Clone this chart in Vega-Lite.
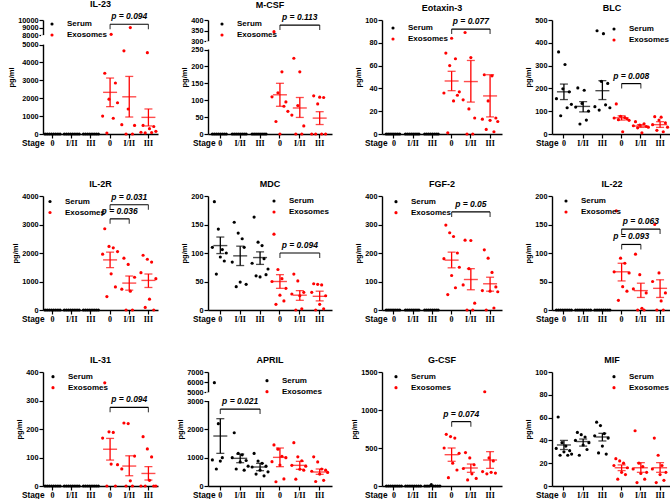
{
"$schema":"https://vega.github.io/schema/vega-lite/v6.json",
"padding":{"left":7,"top":0,"right":0,"bottom":0},
"bounds":"flush",
"columns":4,
"spacing":{"row":62,"column":50},
"resolve":{"scale":{"x":"independent","y":"independent","color":"independent","xOffset":"independent"},"legend":{"color":"independent"},"axis":{"x":"independent","y":"independent"}},
"config":{
"view":{"stroke":null},
"font":"Liberation Sans",
"axis":{"grid":false,"domainColor":"#000000","domainWidth":1.4,"tickColor":"#000000","tickWidth":1.2,"tickSize":4,"labelColor":"#000000","labelFont":"Liberation Sans","labelFontWeight":"bold","labelFontSize":7.3,"labelPadding":1,"titleColor":"#000000","titleFont":"Liberation Sans","titleFontWeight":"bold","titleFontSize":7.5,"labelOverlap":false,"labelFlush":false},
"axisX":{"labelFont":"Liberation Serif","labelFontSize":8,"labelAngle":0,"titleAlign":"right","titleBaseline":"middle","titleY":9,"titleFontSize":8.3},
"axisY":{"titlePadding":2,"tickCount":20},
"legend":{"padding":0,"symbolType":"circle","symbolSize":10,"symbolStrokeWidth":0,"labelFont":"Liberation Sans","labelFontWeight":"bold","labelFontSize":8,"labelOffset":11,"rowPadding":3,"labelColor":"#000000"},
"title":{"font":"Liberation Sans","fontSize":9,"fontWeight":"bold","color":"#000000","frame":"group","baseline":"bottom","offset":3}
},
"datasets":{
"gap":[{"p":"IL-23","lo":5000,"hi":8000},{"p":"M-CSF","lo":250,"hi":300},{"p":"APRIL","lo":3000,"hi":5000}],
"pts":[
{"p":"IL-23","g":1,"v":0},{"p":"IL-23","g":1,"v":0},{"p":"IL-23","g":1,"v":0},{"p":"IL-23","g":1,"v":0},{"p":"IL-23","g":1,"v":0},{"p":"IL-23","g":1,"v":0},{"p":"IL-23","g":1,"v":0},{"p":"IL-23","g":1,"v":0},
{"p":"IL-23","g":2,"v":0},{"p":"IL-23","g":2,"v":0},{"p":"IL-23","g":2,"v":0},{"p":"IL-23","g":2,"v":0},{"p":"IL-23","g":2,"v":0},{"p":"IL-23","g":2,"v":0},{"p":"IL-23","g":2,"v":0},{"p":"IL-23","g":2,"v":0},
{"p":"IL-23","g":3,"v":0},{"p":"IL-23","g":3,"v":0},{"p":"IL-23","g":3,"v":0},{"p":"IL-23","g":3,"v":0},{"p":"IL-23","g":3,"v":0},{"p":"IL-23","g":3,"v":0},{"p":"IL-23","g":3,"v":0},{"p":"IL-23","g":3,"v":0},
{"p":"IL-23","g":4,"v":1000},{"p":"IL-23","g":4,"v":3400},{"p":"IL-23","g":4,"v":50},{"p":"IL-23","g":4,"v":1950},{"p":"IL-23","g":4,"v":8100},{"p":"IL-23","g":4,"v":880},{"p":"IL-23","g":4,"v":2850},{"p":"IL-23","g":4,"v":1750},
{"p":"IL-23","g":5,"v":520},{"p":"IL-23","g":5,"v":4650},{"p":"IL-23","g":5,"v":0},{"p":"IL-23","g":5,"v":1400},{"p":"IL-23","g":5,"v":9000},{"p":"IL-23","g":5,"v":0},{"p":"IL-23","g":5,"v":480},
{"p":"IL-23","g":6,"v":100},{"p":"IL-23","g":6,"v":480},{"p":"IL-23","g":6,"v":60},{"p":"IL-23","g":6,"v":4550},{"p":"IL-23","g":6,"v":300},{"p":"IL-23","g":6,"v":80},{"p":"IL-23","g":6,"v":420},{"p":"IL-23","g":6,"v":150},
{"p":"M-CSF","g":1,"v":0},{"p":"M-CSF","g":1,"v":0},{"p":"M-CSF","g":1,"v":0},{"p":"M-CSF","g":1,"v":0},{"p":"M-CSF","g":1,"v":0},{"p":"M-CSF","g":1,"v":0},{"p":"M-CSF","g":1,"v":0},{"p":"M-CSF","g":1,"v":0},
{"p":"M-CSF","g":2,"v":0},{"p":"M-CSF","g":2,"v":0},{"p":"M-CSF","g":2,"v":0},{"p":"M-CSF","g":2,"v":0},{"p":"M-CSF","g":2,"v":0},{"p":"M-CSF","g":2,"v":0},{"p":"M-CSF","g":2,"v":0},{"p":"M-CSF","g":2,"v":0},
{"p":"M-CSF","g":3,"v":0},{"p":"M-CSF","g":3,"v":0},{"p":"M-CSF","g":3,"v":0},{"p":"M-CSF","g":3,"v":0},{"p":"M-CSF","g":3,"v":0},{"p":"M-CSF","g":3,"v":0},{"p":"M-CSF","g":3,"v":0},{"p":"M-CSF","g":3,"v":0},
{"p":"M-CSF","g":4,"v":110},{"p":"M-CSF","g":4,"v":345},{"p":"M-CSF","g":4,"v":37},{"p":"M-CSF","g":4,"v":122},{"p":"M-CSF","g":4,"v":0},{"p":"M-CSF","g":4,"v":184},{"p":"M-CSF","g":4,"v":82},{"p":"M-CSF","g":4,"v":95},{"p":"M-CSF","g":4,"v":67},
{"p":"M-CSF","g":5,"v":56},{"p":"M-CSF","g":5,"v":224},{"p":"M-CSF","g":5,"v":0},{"p":"M-CSF","g":5,"v":84},{"p":"M-CSF","g":5,"v":184},{"p":"M-CSF","g":5,"v":0},{"p":"M-CSF","g":5,"v":24},
{"p":"M-CSF","g":6,"v":0},{"p":"M-CSF","g":6,"v":113},{"p":"M-CSF","g":6,"v":0},{"p":"M-CSF","g":6,"v":89},{"p":"M-CSF","g":6,"v":109},{"p":"M-CSF","g":6,"v":0},{"p":"M-CSF","g":6,"v":108},{"p":"M-CSF","g":6,"v":0},
{"p":"Eotaxin-3","g":1,"v":0},{"p":"Eotaxin-3","g":1,"v":0},{"p":"Eotaxin-3","g":1,"v":0},{"p":"Eotaxin-3","g":1,"v":0},{"p":"Eotaxin-3","g":1,"v":0},{"p":"Eotaxin-3","g":1,"v":0},{"p":"Eotaxin-3","g":1,"v":0},{"p":"Eotaxin-3","g":1,"v":0},
{"p":"Eotaxin-3","g":2,"v":0},{"p":"Eotaxin-3","g":2,"v":0},{"p":"Eotaxin-3","g":2,"v":0},{"p":"Eotaxin-3","g":2,"v":0},{"p":"Eotaxin-3","g":2,"v":0},{"p":"Eotaxin-3","g":2,"v":0},{"p":"Eotaxin-3","g":2,"v":0},{"p":"Eotaxin-3","g":2,"v":0},
{"p":"Eotaxin-3","g":3,"v":0},{"p":"Eotaxin-3","g":3,"v":0},{"p":"Eotaxin-3","g":3,"v":0},{"p":"Eotaxin-3","g":3,"v":0},{"p":"Eotaxin-3","g":3,"v":0},{"p":"Eotaxin-3","g":3,"v":0},{"p":"Eotaxin-3","g":3,"v":0},{"p":"Eotaxin-3","g":3,"v":0},
{"p":"Eotaxin-3","g":4,"v":36},{"p":"Eotaxin-3","g":4,"v":71},{"p":"Eotaxin-3","g":4,"v":1},{"p":"Eotaxin-3","g":4,"v":60},{"p":"Eotaxin-3","g":4,"v":84},{"p":"Eotaxin-3","g":4,"v":29},{"p":"Eotaxin-3","g":4,"v":66},{"p":"Eotaxin-3","g":4,"v":34},{"p":"Eotaxin-3","g":4,"v":37},
{"p":"Eotaxin-3","g":5,"v":30},{"p":"Eotaxin-3","g":5,"v":89},{"p":"Eotaxin-3","g":5,"v":0},{"p":"Eotaxin-3","g":5,"v":22},{"p":"Eotaxin-3","g":5,"v":67},{"p":"Eotaxin-3","g":5,"v":0},{"p":"Eotaxin-3","g":5,"v":14},
{"p":"Eotaxin-3","g":6,"v":13},{"p":"Eotaxin-3","g":6,"v":52},{"p":"Eotaxin-3","g":6,"v":4},{"p":"Eotaxin-3","g":6,"v":29},{"p":"Eotaxin-3","g":6,"v":12},{"p":"Eotaxin-3","g":6,"v":51},{"p":"Eotaxin-3","g":6,"v":2},{"p":"Eotaxin-3","g":6,"v":14},{"p":"Eotaxin-3","g":6,"v":11},
{"p":"BLC","g":1,"v":155},{"p":"BLC","g":1,"v":360},{"p":"BLC","g":1,"v":80},{"p":"BLC","g":1,"v":198},{"p":"BLC","g":1,"v":305},{"p":"BLC","g":1,"v":115},{"p":"BLC","g":1,"v":185},{"p":"BLC","g":1,"v":130},
{"p":"BLC","g":2,"v":118},{"p":"BLC","g":2,"v":202},{"p":"BLC","g":2,"v":44},{"p":"BLC","g":2,"v":134},{"p":"BLC","g":2,"v":192},{"p":"BLC","g":2,"v":61},{"p":"BLC","g":2,"v":100},
{"p":"BLC","g":3,"v":120},{"p":"BLC","g":3,"v":453},{"p":"BLC","g":3,"v":105},{"p":"BLC","g":3,"v":231},{"p":"BLC","g":3,"v":440},{"p":"BLC","g":3,"v":128},{"p":"BLC","g":3,"v":222},{"p":"BLC","g":3,"v":115},
{"p":"BLC","g":4,"v":70},{"p":"BLC","g":4,"v":132},{"p":"BLC","g":4,"v":63},{"p":"BLC","g":4,"v":78},{"p":"BLC","g":4,"v":10},{"p":"BLC","g":4,"v":72},{"p":"BLC","g":4,"v":66},{"p":"BLC","g":4,"v":60},
{"p":"BLC","g":5,"v":36},{"p":"BLC","g":5,"v":54},{"p":"BLC","g":5,"v":27},{"p":"BLC","g":5,"v":39},{"p":"BLC","g":5,"v":5},{"p":"BLC","g":5,"v":45},{"p":"BLC","g":5,"v":33},{"p":"BLC","g":5,"v":30},
{"p":"BLC","g":6,"v":41},{"p":"BLC","g":6,"v":76},{"p":"BLC","g":6,"v":16},{"p":"BLC","g":6,"v":61},{"p":"BLC","g":6,"v":74},{"p":"BLC","g":6,"v":10},{"p":"BLC","g":6,"v":49},{"p":"BLC","g":6,"v":30},
{"p":"IL-2R","g":1,"v":0},{"p":"IL-2R","g":1,"v":0},{"p":"IL-2R","g":1,"v":0},{"p":"IL-2R","g":1,"v":0},{"p":"IL-2R","g":1,"v":0},{"p":"IL-2R","g":1,"v":0},{"p":"IL-2R","g":1,"v":0},{"p":"IL-2R","g":1,"v":0},
{"p":"IL-2R","g":2,"v":0},{"p":"IL-2R","g":2,"v":0},{"p":"IL-2R","g":2,"v":0},{"p":"IL-2R","g":2,"v":0},{"p":"IL-2R","g":2,"v":0},{"p":"IL-2R","g":2,"v":0},{"p":"IL-2R","g":2,"v":0},{"p":"IL-2R","g":2,"v":0},
{"p":"IL-2R","g":3,"v":0},{"p":"IL-2R","g":3,"v":0},{"p":"IL-2R","g":3,"v":0},{"p":"IL-2R","g":3,"v":0},{"p":"IL-2R","g":3,"v":0},{"p":"IL-2R","g":3,"v":0},{"p":"IL-2R","g":3,"v":0},{"p":"IL-2R","g":3,"v":0},
{"p":"IL-2R","g":4,"v":1960},{"p":"IL-2R","g":4,"v":2850},{"p":"IL-2R","g":4,"v":470},{"p":"IL-2R","g":4,"v":2230},{"p":"IL-2R","g":4,"v":1270},{"p":"IL-2R","g":4,"v":2180},{"p":"IL-2R","g":4,"v":810},{"p":"IL-2R","g":4,"v":2050},
{"p":"IL-2R","g":5,"v":730},{"p":"IL-2R","g":5,"v":1820},{"p":"IL-2R","g":5,"v":0},{"p":"IL-2R","g":5,"v":1600},{"p":"IL-2R","g":5,"v":660},{"p":"IL-2R","g":5,"v":0},{"p":"IL-2R","g":5,"v":1150},
{"p":"IL-2R","g":6,"v":1310},{"p":"IL-2R","g":6,"v":1920},{"p":"IL-2R","g":6,"v":90},{"p":"IL-2R","g":6,"v":1780},{"p":"IL-2R","g":6,"v":380},{"p":"IL-2R","g":6,"v":1680},{"p":"IL-2R","g":6,"v":0},{"p":"IL-2R","g":6,"v":1100},
{"p":"MDC","g":1,"v":110},{"p":"MDC","g":1,"v":190},{"p":"MDC","g":1,"v":63},{"p":"MDC","g":1,"v":142},{"p":"MDC","g":1,"v":93},{"p":"MDC","g":1,"v":106},{"p":"MDC","g":1,"v":86},{"p":"MDC","g":1,"v":100},
{"p":"MDC","g":2,"v":84},{"p":"MDC","g":2,"v":154},{"p":"MDC","g":2,"v":41},{"p":"MDC","g":2,"v":135},{"p":"MDC","g":2,"v":49},{"p":"MDC","g":2,"v":125},{"p":"MDC","g":2,"v":110},{"p":"MDC","g":2,"v":45},
{"p":"MDC","g":3,"v":82},{"p":"MDC","g":3,"v":163},{"p":"MDC","g":3,"v":60},{"p":"MDC","g":3,"v":119},{"p":"MDC","g":3,"v":58},{"p":"MDC","g":3,"v":113},{"p":"MDC","g":3,"v":90},{"p":"MDC","g":3,"v":62},{"p":"MDC","g":3,"v":72},
{"p":"MDC","g":4,"v":50},{"p":"MDC","g":4,"v":133},{"p":"MDC","g":4,"v":10},{"p":"MDC","g":4,"v":71},{"p":"MDC","g":4,"v":26},{"p":"MDC","g":4,"v":55},{"p":"MDC","g":4,"v":16},{"p":"MDC","g":4,"v":38},
{"p":"MDC","g":5,"v":28},{"p":"MDC","g":5,"v":63},{"p":"MDC","g":5,"v":0},{"p":"MDC","g":5,"v":51},{"p":"MDC","g":5,"v":25},{"p":"MDC","g":5,"v":2},{"p":"MDC","g":5,"v":31},
{"p":"MDC","g":6,"v":31},{"p":"MDC","g":6,"v":46},{"p":"MDC","g":6,"v":0},{"p":"MDC","g":6,"v":45},{"p":"MDC","g":6,"v":10},{"p":"MDC","g":6,"v":44},{"p":"MDC","g":6,"v":2},{"p":"MDC","g":6,"v":25},
{"p":"FGF-2","g":1,"v":0},{"p":"FGF-2","g":1,"v":0},{"p":"FGF-2","g":1,"v":0},{"p":"FGF-2","g":1,"v":0},{"p":"FGF-2","g":1,"v":0},{"p":"FGF-2","g":1,"v":0},{"p":"FGF-2","g":1,"v":0},{"p":"FGF-2","g":1,"v":0},
{"p":"FGF-2","g":2,"v":0},{"p":"FGF-2","g":2,"v":0},{"p":"FGF-2","g":2,"v":0},{"p":"FGF-2","g":2,"v":0},{"p":"FGF-2","g":2,"v":0},{"p":"FGF-2","g":2,"v":0},{"p":"FGF-2","g":2,"v":0},{"p":"FGF-2","g":2,"v":0},
{"p":"FGF-2","g":3,"v":0},{"p":"FGF-2","g":3,"v":0},{"p":"FGF-2","g":3,"v":0},{"p":"FGF-2","g":3,"v":0},{"p":"FGF-2","g":3,"v":0},{"p":"FGF-2","g":3,"v":0},{"p":"FGF-2","g":3,"v":0},{"p":"FGF-2","g":3,"v":0},
{"p":"FGF-2","g":4,"v":180},{"p":"FGF-2","g":4,"v":298},{"p":"FGF-2","g":4,"v":54},{"p":"FGF-2","g":4,"v":271},{"p":"FGF-2","g":4,"v":121},{"p":"FGF-2","g":4,"v":258},{"p":"FGF-2","g":4,"v":78},{"p":"FGF-2","g":4,"v":200},{"p":"FGF-2","g":4,"v":150},
{"p":"FGF-2","g":5,"v":88},{"p":"FGF-2","g":5,"v":245},{"p":"FGF-2","g":5,"v":0},{"p":"FGF-2","g":5,"v":145},{"p":"FGF-2","g":5,"v":244},{"p":"FGF-2","g":5,"v":0},{"p":"FGF-2","g":5,"v":24},
{"p":"FGF-2","g":6,"v":68},{"p":"FGF-2","g":6,"v":211},{"p":"FGF-2","g":6,"v":0},{"p":"FGF-2","g":6,"v":182},{"p":"FGF-2","g":6,"v":66},{"p":"FGF-2","g":6,"v":132},{"p":"FGF-2","g":6,"v":7},{"p":"FGF-2","g":6,"v":81},{"p":"FGF-2","g":6,"v":64},
{"p":"IL-22","g":1,"v":0},{"p":"IL-22","g":1,"v":0},{"p":"IL-22","g":1,"v":0},{"p":"IL-22","g":1,"v":0},{"p":"IL-22","g":1,"v":0},{"p":"IL-22","g":1,"v":0},{"p":"IL-22","g":1,"v":0},{"p":"IL-22","g":1,"v":0},
{"p":"IL-22","g":2,"v":0},{"p":"IL-22","g":2,"v":0},{"p":"IL-22","g":2,"v":0},{"p":"IL-22","g":2,"v":0},{"p":"IL-22","g":2,"v":0},{"p":"IL-22","g":2,"v":0},{"p":"IL-22","g":2,"v":0},{"p":"IL-22","g":2,"v":0},
{"p":"IL-22","g":3,"v":0},{"p":"IL-22","g":3,"v":0},{"p":"IL-22","g":3,"v":0},{"p":"IL-22","g":3,"v":0},{"p":"IL-22","g":3,"v":0},{"p":"IL-22","g":3,"v":0},{"p":"IL-22","g":3,"v":0},{"p":"IL-22","g":3,"v":0},
{"p":"IL-22","g":4,"v":67},{"p":"IL-22","g":4,"v":174},{"p":"IL-22","g":4,"v":17},{"p":"IL-22","g":4,"v":91},{"p":"IL-22","g":4,"v":41},{"p":"IL-22","g":4,"v":82},{"p":"IL-22","g":4,"v":33},{"p":"IL-22","g":4,"v":65},
{"p":"IL-22","g":5,"v":37},{"p":"IL-22","g":5,"v":98},{"p":"IL-22","g":5,"v":0},{"p":"IL-22","g":5,"v":62},{"p":"IL-22","g":5,"v":3},{"p":"IL-22","g":5,"v":0},{"p":"IL-22","g":5,"v":30},
{"p":"IL-22","g":6,"v":50},{"p":"IL-22","g":6,"v":150},{"p":"IL-22","g":6,"v":0},{"p":"IL-22","g":6,"v":65},{"p":"IL-22","g":6,"v":16},{"p":"IL-22","g":6,"v":0},{"p":"IL-22","g":6,"v":30},
{"p":"IL-31","g":1,"v":0},{"p":"IL-31","g":1,"v":0},{"p":"IL-31","g":1,"v":0},{"p":"IL-31","g":1,"v":0},{"p":"IL-31","g":1,"v":0},{"p":"IL-31","g":1,"v":0},{"p":"IL-31","g":1,"v":0},{"p":"IL-31","g":1,"v":0},
{"p":"IL-31","g":2,"v":0},{"p":"IL-31","g":2,"v":0},{"p":"IL-31","g":2,"v":0},{"p":"IL-31","g":2,"v":0},{"p":"IL-31","g":2,"v":0},{"p":"IL-31","g":2,"v":0},{"p":"IL-31","g":2,"v":0},{"p":"IL-31","g":2,"v":0},
{"p":"IL-31","g":3,"v":0},{"p":"IL-31","g":3,"v":0},{"p":"IL-31","g":3,"v":0},{"p":"IL-31","g":3,"v":0},{"p":"IL-31","g":3,"v":0},{"p":"IL-31","g":3,"v":0},{"p":"IL-31","g":3,"v":0},{"p":"IL-31","g":3,"v":0},
{"p":"IL-31","g":4,"v":168},{"p":"IL-31","g":4,"v":362},{"p":"IL-31","g":4,"v":0},{"p":"IL-31","g":4,"v":190},{"p":"IL-31","g":4,"v":77},{"p":"IL-31","g":4,"v":188},{"p":"IL-31","g":4,"v":0},{"p":"IL-31","g":4,"v":75},
{"p":"IL-31","g":5,"v":60},{"p":"IL-31","g":5,"v":221},{"p":"IL-31","g":5,"v":0},{"p":"IL-31","g":5,"v":219},{"p":"IL-31","g":5,"v":18},{"p":"IL-31","g":5,"v":0},{"p":"IL-31","g":5,"v":105},
{"p":"IL-31","g":6,"v":0},{"p":"IL-31","g":6,"v":173},{"p":"IL-31","g":6,"v":0},{"p":"IL-31","g":6,"v":130},{"p":"IL-31","g":6,"v":20},{"p":"IL-31","g":6,"v":102},{"p":"IL-31","g":6,"v":0},{"p":"IL-31","g":6,"v":0},
{"p":"APRIL","g":1,"v":920},{"p":"APRIL","g":1,"v":5950},{"p":"APRIL","g":1,"v":600},{"p":"APRIL","g":1,"v":2200},{"p":"APRIL","g":1,"v":880},{"p":"APRIL","g":1,"v":1000},
{"p":"APRIL","g":2,"v":1000},{"p":"APRIL","g":2,"v":1880},{"p":"APRIL","g":2,"v":600},{"p":"APRIL","g":2,"v":1150},{"p":"APRIL","g":2,"v":850},{"p":"APRIL","g":2,"v":1100},{"p":"APRIL","g":2,"v":560},{"p":"APRIL","g":2,"v":900},{"p":"APRIL","g":2,"v":700},
{"p":"APRIL","g":3,"v":670},{"p":"APRIL","g":3,"v":1150},{"p":"APRIL","g":3,"v":420},{"p":"APRIL","g":3,"v":880},{"p":"APRIL","g":3,"v":560},{"p":"APRIL","g":3,"v":800},{"p":"APRIL","g":3,"v":360},{"p":"APRIL","g":3,"v":700},{"p":"APRIL","g":3,"v":500},
{"p":"APRIL","g":4,"v":860},{"p":"APRIL","g":4,"v":1450},{"p":"APRIL","g":4,"v":150},{"p":"APRIL","g":4,"v":1300},{"p":"APRIL","g":4,"v":740},{"p":"APRIL","g":4,"v":1050},{"p":"APRIL","g":4,"v":250},{"p":"APRIL","g":4,"v":1000},
{"p":"APRIL","g":5,"v":730},{"p":"APRIL","g":5,"v":1530},{"p":"APRIL","g":5,"v":240},{"p":"APRIL","g":5,"v":1030},{"p":"APRIL","g":5,"v":590},{"p":"APRIL","g":5,"v":890},{"p":"APRIL","g":5,"v":560},{"p":"APRIL","g":5,"v":700},
{"p":"APRIL","g":6,"v":520},{"p":"APRIL","g":6,"v":1030},{"p":"APRIL","g":6,"v":160},{"p":"APRIL","g":6,"v":850},{"p":"APRIL","g":6,"v":420},{"p":"APRIL","g":6,"v":600},{"p":"APRIL","g":6,"v":200},{"p":"APRIL","g":6,"v":560},{"p":"APRIL","g":6,"v":480},
{"p":"G-CSF","g":1,"v":0},{"p":"G-CSF","g":1,"v":0},{"p":"G-CSF","g":1,"v":0},{"p":"G-CSF","g":1,"v":0},{"p":"G-CSF","g":1,"v":0},{"p":"G-CSF","g":1,"v":0},{"p":"G-CSF","g":1,"v":0},{"p":"G-CSF","g":1,"v":0},
{"p":"G-CSF","g":2,"v":0},{"p":"G-CSF","g":2,"v":0},{"p":"G-CSF","g":2,"v":0},{"p":"G-CSF","g":2,"v":0},{"p":"G-CSF","g":2,"v":0},{"p":"G-CSF","g":2,"v":0},{"p":"G-CSF","g":2,"v":0},{"p":"G-CSF","g":2,"v":0},
{"p":"G-CSF","g":3,"v":0},{"p":"G-CSF","g":3,"v":0},{"p":"G-CSF","g":3,"v":0},{"p":"G-CSF","g":3,"v":18},{"p":"G-CSF","g":3,"v":0},{"p":"G-CSF","g":3,"v":0},{"p":"G-CSF","g":3,"v":0},{"p":"G-CSF","g":3,"v":0},
{"p":"G-CSF","g":4,"v":500},{"p":"G-CSF","g":4,"v":680},{"p":"G-CSF","g":4,"v":110},{"p":"G-CSF","g":4,"v":650},{"p":"G-CSF","g":4,"v":300},{"p":"G-CSF","g":4,"v":630},{"p":"G-CSF","g":4,"v":210},{"p":"G-CSF","g":4,"v":430},
{"p":"G-CSF","g":5,"v":230},{"p":"G-CSF","g":5,"v":440},{"p":"G-CSF","g":5,"v":80},{"p":"G-CSF","g":5,"v":370},{"p":"G-CSF","g":5,"v":160},{"p":"G-CSF","g":5,"v":280},{"p":"G-CSF","g":5,"v":100},
{"p":"G-CSF","g":6,"v":190},{"p":"G-CSF","g":6,"v":1240},{"p":"G-CSF","g":6,"v":160},{"p":"G-CSF","g":6,"v":370},{"p":"G-CSF","g":6,"v":180},{"p":"G-CSF","g":6,"v":330},{"p":"G-CSF","g":6,"v":170},
{"p":"MIF","g":1,"v":33},{"p":"MIF","g":1,"v":60.5},{"p":"MIF","g":1,"v":27},{"p":"MIF","g":1,"v":38},{"p":"MIF","g":1,"v":30},{"p":"MIF","g":1,"v":35},{"p":"MIF","g":1,"v":27},{"p":"MIF","g":1,"v":31},{"p":"MIF","g":1,"v":28},
{"p":"MIF","g":2,"v":40},{"p":"MIF","g":2,"v":47},{"p":"MIF","g":2,"v":27},{"p":"MIF","g":2,"v":45},{"p":"MIF","g":2,"v":36},{"p":"MIF","g":2,"v":43},{"p":"MIF","g":2,"v":32},{"p":"MIF","g":2,"v":38},
{"p":"MIF","g":3,"v":44},{"p":"MIF","g":3,"v":56},{"p":"MIF","g":3,"v":29},{"p":"MIF","g":3,"v":53},{"p":"MIF","g":3,"v":35},{"p":"MIF","g":3,"v":46},{"p":"MIF","g":3,"v":28},{"p":"MIF","g":3,"v":42},
{"p":"MIF","g":4,"v":18},{"p":"MIF","g":4,"v":24},{"p":"MIF","g":4,"v":6},{"p":"MIF","g":4,"v":22},{"p":"MIF","g":4,"v":12},{"p":"MIF","g":4,"v":20},{"p":"MIF","g":4,"v":10},{"p":"MIF","g":4,"v":16},
{"p":"MIF","g":5,"v":15},{"p":"MIF","g":5,"v":48.5},{"p":"MIF","g":5,"v":3},{"p":"MIF","g":5,"v":20},{"p":"MIF","g":5,"v":11},{"p":"MIF","g":5,"v":17},{"p":"MIF","g":5,"v":6},{"p":"MIF","g":5,"v":12},
{"p":"MIF","g":6,"v":15},{"p":"MIF","g":6,"v":42},{"p":"MIF","g":6,"v":3},{"p":"MIF","g":6,"v":27},{"p":"MIF","g":6,"v":10},{"p":"MIF","g":6,"v":18},{"p":"MIF","g":6,"v":5},{"p":"MIF","g":6,"v":12}
],
"sum":[
{"p":"IL-23","g":4,"m":2330,"lo":1530,"hi":3130},{"p":"IL-23","g":5,"m":2080,"lo":950,"hi":3220},{"p":"IL-23","g":6,"m":930,"lo":450,"hi":1400},
{"p":"M-CSF","g":4,"m":116,"lo":82,"hi":150},{"p":"M-CSF","g":5,"m":77,"lo":49,"hi":108},{"p":"M-CSF","g":6,"m":47,"lo":28,"hi":66},
{"p":"Eotaxin-3","g":4,"m":46.5,"lo":38,"hi":55},{"p":"Eotaxin-3","g":5,"m":46,"lo":28,"hi":64.5},{"p":"Eotaxin-3","g":6,"m":33.4,"lo":15,"hi":52},
{"p":"BLC","g":1,"m":185,"lo":151,"hi":219},{"p":"BLC","g":2,"m":121,"lo":97,"hi":142},{"p":"BLC","g":3,"m":190,"lo":151,"hi":234},{"p":"BLC","g":4,"m":71,"lo":61,"hi":80},{"p":"BLC","g":5,"m":35,"lo":29,"hi":41},{"p":"BLC","g":6,"m":41,"lo":29,"hi":54},
{"p":"IL-2R","g":4,"m":1758,"lo":1487,"hi":2030},{"p":"IL-2R","g":5,"m":944,"lo":696,"hi":1192},{"p":"IL-2R","g":6,"m":1038,"lo":790,"hi":1263},
{"p":"MDC","g":1,"m":113,"lo":99,"hi":128},{"p":"MDC","g":2,"m":95,"lo":78,"hi":112},{"p":"MDC","g":3,"m":92,"lo":80,"hi":102},{"p":"MDC","g":4,"m":50,"lo":38,"hi":62},{"p":"MDC","g":5,"m":26,"lo":17,"hi":34},{"p":"MDC","g":6,"m":24,"lo":16,"hi":33},
{"p":"FGF-2","g":4,"m":175,"lo":148,"hi":203},{"p":"FGF-2","g":5,"m":107,"lo":71,"hi":145},{"p":"FGF-2","g":6,"m":92,"lo":66,"hi":115},
{"p":"IL-22","g":4,"m":67,"lo":51,"hi":82},{"p":"IL-22","g":5,"m":34,"lo":22,"hi":47},{"p":"IL-22","g":6,"m":38,"lo":22,"hi":53},
{"p":"IL-31","g":4,"m":129,"lo":91,"hi":167},{"p":"IL-31","g":5,"m":70,"lo":36,"hi":106},{"p":"IL-31","g":6,"m":44,"lo":21,"hi":68},
{"p":"APRIL","g":1,"m":1764,"lo":1152,"hi":2376},{"p":"APRIL","g":2,"m":976,"lo":823,"hi":1129},{"p":"APRIL","g":3,"m":670,"lo":541,"hi":800},{"p":"APRIL","g":4,"m":1011,"lo":682,"hi":1341},{"p":"APRIL","g":5,"m":729,"lo":588,"hi":870},{"p":"APRIL","g":6,"m":494,"lo":412,"hi":600},
{"p":"G-CSF","g":4,"m":412,"lo":325,"hi":500},{"p":"G-CSF","g":5,"m":237,"lo":180,"hi":289},{"p":"G-CSF","g":6,"m":342,"lo":232,"hi":452},
{"p":"MIF","g":1,"m":36,"lo":32,"hi":40},{"p":"MIF","g":2,"m":39,"lo":35,"hi":41.2},{"p":"MIF","g":3,"m":43,"lo":39.5,"hi":46.2},{"p":"MIF","g":4,"m":16,"lo":13.5,"hi":18.5},{"p":"MIF","g":5,"m":16,"lo":12,"hi":20.5},{"p":"MIF","g":6,"m":16,"lo":12,"hi":20.5}
],
"br":[
{"p":"IL-23","a":4,"b":6,"y":9435,"t":"p = 0.094"},
{"p":"M-CSF","a":4,"b":6,"y":376,"t":"p = 0.113"},
{"p":"Eotaxin-3","a":4,"b":6,"y":92,"t":"p = 0.077"},
{"p":"BLC","a":4,"b":5,"y":221,"t":"p = 0.008"},
{"p":"IL-2R","a":4,"b":6,"y":3693,"t":"p = 0.031"},
{"p":"IL-2R","a":4,"b":5,"y":3198,"t":"p = 0.036"},
{"p":"MDC","a":4,"b":6,"y":100,"t":"p = 0.094"},
{"p":"FGF-2","a":4,"b":6,"y":344,"t":"p = 0.05"},
{"p":"IL-22","a":4,"b":6,"y":142,"t":"p = 0.063"},
{"p":"IL-22","a":4,"b":5,"y":115,"t":"p = 0.093"},
{"p":"IL-31","a":4,"b":6,"y":276,"t":"p = 0.094"},
{"p":"APRIL","a":1,"b":3,"y":2716,"t":"p = 0.021"},
{"p":"G-CSF","a":4,"b":5,"y":847,"t":"p = 0.074"}
]
},
"concat":[
{"title":"IL-23","width":115,"height":114,"layer":[
{"data":{"name":"pts"},"transform":[{"filter":"datum.p==='IL-23'"},{"calculate":"datum.g>3?'Exosomes':'Serum'","as":"src"},{"window":[{"op":"row_number","as":"k"}],"groupby":["g"]}],"mark":{"type":"circle","size":10,"opacity":1},"encoding":{"x":{"field":"g","type":"ordinal","title":"Stage","scale":{"type":"band","domain":[1,2,3,4,5,6],"paddingInner":0,"paddingOuter":0},"axis":{"labelExpr":"['0','I/II','III','0','I/II','III'][datum.value-1]","titleX":1}},"xOffset":{"field":"k","type":"nominal","scale":{"paddingOuter":4.5,"paddingInner":0}},"y":{"field":"v","type":"quantitative","title":"pg/ml","scale":{"domain":[0,5000,8000,10000],"range":[114,24.6,15.1,0],"nice":false,"zero":false},"axis":{"values":[0,1000,2000,3000,4000,5000,8000,9000,10000],"tickCount":20,"format":"d","labelOverlap":false}},"color":{"field":"src","type":"nominal","scale":{"domain":["Serum","Exosomes"],"range":["#000000","#ff0000"]},"legend":{"title":null,"orient":"none","legendX":5,"legendY":0,"encode":{"labels":{"update":{"fill":{"signal":"datum.label==='Exosomes'?'#ff0000':'#000000'"}}}}}}}},
{"data":{"name":"gap"},"transform":[{"filter":"datum.p==='IL-23'"}],"mark":{"type":"rule","color":"#ffffff","strokeWidth":4},"encoding":{"x":{"datum":1,"type":"ordinal","bandPosition":0},"y":{"field":"lo","type":"quantitative","title":"pg/ml"},"y2":{"field":"hi"}}},
{"data":{"name":"sum"},"transform":[{"filter":"datum.p==='IL-23'"}],"mark":{"type":"rule","strokeWidth":1.3},"encoding":{"x":{"field":"g","type":"ordinal","title":"Stage"},"y":{"field":"lo","type":"quantitative","title":"pg/ml"},"y2":{"field":"hi"},"color":{"condition":{"test":"datum.g>3","value":"#ff0000"},"value":"#000000"}}},
{"data":{"name":"sum"},"transform":[{"filter":"datum.p==='IL-23'"}],"mark":{"type":"tick","orient":"horizontal","size":14,"thickness":1.4},"encoding":{"x":{"field":"g","type":"ordinal","title":"Stage"},"y":{"field":"m","type":"quantitative","title":"pg/ml"},"color":{"condition":{"test":"datum.g>3","value":"#ff0000"},"value":"#000000"}}},
{"data":{"name":"sum"},"transform":[{"filter":"datum.p==='IL-23'"},{"fold":["lo","hi"],"as":["c","cv"]}],"mark":{"type":"tick","orient":"horizontal","size":8,"thickness":1.3},"encoding":{"x":{"field":"g","type":"ordinal","title":"Stage"},"y":{"field":"cv","type":"quantitative","title":"pg/ml"},"color":{"condition":{"test":"datum.g>3","value":"#ff0000"},"value":"#000000"}}},
{"data":{"name":"br"},"transform":[{"filter":"datum.p==='IL-23'"}],"mark":{"type":"rule","color":"#000000","strokeWidth":1.2},"encoding":{"x":{"field":"a","type":"ordinal","title":"Stage","bandPosition":0.5},"x2":{"field":"b","bandPosition":0.5},"y":{"field":"y","type":"quantitative","title":"pg/ml"}}},
{"data":{"name":"br"},"transform":[{"filter":"datum.p==='IL-23'"},{"fold":["a","b"],"as":["e","xe"]}],"mark":{"type":"tick","orient":"vertical","size":5,"thickness":1.2,"yOffset":2.5,"color":"#000000"},"encoding":{"x":{"field":"xe","type":"ordinal","title":"Stage"},"y":{"field":"y","type":"quantitative","title":"pg/ml"}}},
{"data":{"name":"br"},"transform":[{"filter":"datum.p==='IL-23' && datum.b-datum.a===2"}],"mark":{"type":"text","fontStyle":"italic","fontWeight":"bold","fontSize":8.5,"baseline":"bottom","dy":-3,"color":"#000000"},"encoding":{"x":{"field":"a","type":"ordinal","title":"Stage","bandPosition":1.5},"y":{"field":"y","type":"quantitative","title":"pg/ml"},"text":{"field":"t"}}},
{"data":{"name":"br"},"transform":[{"filter":"datum.p==='IL-23' && datum.b-datum.a===1"}],"mark":{"type":"text","fontStyle":"italic","fontWeight":"bold","fontSize":8.5,"baseline":"bottom","dy":-3,"color":"#000000"},"encoding":{"x":{"field":"a","type":"ordinal","title":"Stage","bandPosition":1},"y":{"field":"y","type":"quantitative","title":"pg/ml"},"text":{"field":"t"}}}
]},
{"title":"M-CSF","width":124,"height":114,"layer":[
{"data":{"name":"pts"},"transform":[{"filter":"datum.p==='M-CSF'"},{"calculate":"datum.g>3?'Exosomes':'Serum'","as":"src"},{"window":[{"op":"row_number","as":"k"}],"groupby":["g"]}],"mark":{"type":"circle","size":10,"opacity":1},"encoding":{"x":{"field":"g","type":"ordinal","title":"Stage","scale":{"type":"band","domain":[1,2,3,4,5,6],"paddingInner":0,"paddingOuter":0.12},"axis":{"labelExpr":"['0','I/II','III','0','I/II','III'][datum.value-1]","titleX":7}},"xOffset":{"field":"k","type":"nominal","scale":{"paddingOuter":4.5,"paddingInner":0}},"y":{"field":"v","type":"quantitative","title":"pg/ml","scale":{"domain":[0,250,300,400],"range":[114,29.5,21.2,0],"nice":false,"zero":false},"axis":{"values":[0,50,100,150,200,250,300,350,400],"tickCount":20,"format":"d","labelOverlap":false}},"color":{"field":"src","type":"nominal","scale":{"domain":["Serum","Exosomes"],"range":["#000000","#ff0000"]},"legend":{"title":null,"orient":"none","legendX":10,"legendY":0,"encode":{"labels":{"update":{"fill":{"signal":"datum.label==='Exosomes'?'#ff0000':'#000000'"}}}}}}}},
{"data":{"name":"gap"},"transform":[{"filter":"datum.p==='M-CSF'"}],"mark":{"type":"rule","color":"#ffffff","strokeWidth":4},"encoding":{"x":{"datum":1,"type":"ordinal","bandPosition":-0.12},"y":{"field":"lo","type":"quantitative","title":"pg/ml"},"y2":{"field":"hi"}}},
{"data":{"name":"sum"},"transform":[{"filter":"datum.p==='M-CSF'"}],"mark":{"type":"rule","strokeWidth":1.3},"encoding":{"x":{"field":"g","type":"ordinal","title":"Stage"},"y":{"field":"lo","type":"quantitative","title":"pg/ml"},"y2":{"field":"hi"},"color":{"condition":{"test":"datum.g>3","value":"#ff0000"},"value":"#000000"}}},
{"data":{"name":"sum"},"transform":[{"filter":"datum.p==='M-CSF'"}],"mark":{"type":"tick","orient":"horizontal","size":14,"thickness":1.4},"encoding":{"x":{"field":"g","type":"ordinal","title":"Stage"},"y":{"field":"m","type":"quantitative","title":"pg/ml"},"color":{"condition":{"test":"datum.g>3","value":"#ff0000"},"value":"#000000"}}},
{"data":{"name":"sum"},"transform":[{"filter":"datum.p==='M-CSF'"},{"fold":["lo","hi"],"as":["c","cv"]}],"mark":{"type":"tick","orient":"horizontal","size":8,"thickness":1.3},"encoding":{"x":{"field":"g","type":"ordinal","title":"Stage"},"y":{"field":"cv","type":"quantitative","title":"pg/ml"},"color":{"condition":{"test":"datum.g>3","value":"#ff0000"},"value":"#000000"}}},
{"data":{"name":"br"},"transform":[{"filter":"datum.p==='M-CSF'"}],"mark":{"type":"rule","color":"#000000","strokeWidth":1.2},"encoding":{"x":{"field":"a","type":"ordinal","title":"Stage","bandPosition":0.5},"x2":{"field":"b","bandPosition":0.5},"y":{"field":"y","type":"quantitative","title":"pg/ml"}}},
{"data":{"name":"br"},"transform":[{"filter":"datum.p==='M-CSF'"},{"fold":["a","b"],"as":["e","xe"]}],"mark":{"type":"tick","orient":"vertical","size":5,"thickness":1.2,"yOffset":2.5,"color":"#000000"},"encoding":{"x":{"field":"xe","type":"ordinal","title":"Stage"},"y":{"field":"y","type":"quantitative","title":"pg/ml"}}},
{"data":{"name":"br"},"transform":[{"filter":"datum.p==='M-CSF' && datum.b-datum.a===2"}],"mark":{"type":"text","fontStyle":"italic","fontWeight":"bold","fontSize":8.5,"baseline":"bottom","dy":-3,"color":"#000000"},"encoding":{"x":{"field":"a","type":"ordinal","title":"Stage","bandPosition":1.5},"y":{"field":"y","type":"quantitative","title":"pg/ml"},"text":{"field":"t"}}},
{"data":{"name":"br"},"transform":[{"filter":"datum.p==='M-CSF' && datum.b-datum.a===1"}],"mark":{"type":"text","fontStyle":"italic","fontWeight":"bold","fontSize":8.5,"baseline":"bottom","dy":-3,"color":"#000000"},"encoding":{"x":{"field":"a","type":"ordinal","title":"Stage","bandPosition":1},"y":{"field":"y","type":"quantitative","title":"pg/ml"},"text":{"field":"t"}}}
]},
{"title":"Eotaxin-3","width":120,"height":114,"layer":[
{"data":{"name":"pts"},"transform":[{"filter":"datum.p==='Eotaxin-3'"},{"calculate":"datum.g>3?'Exosomes':'Serum'","as":"src"},{"window":[{"op":"row_number","as":"k"}],"groupby":["g"]}],"mark":{"type":"circle","size":10,"opacity":1},"encoding":{"x":{"field":"g","type":"ordinal","title":"Stage","scale":{"type":"band","domain":[1,2,3,4,5,6],"paddingInner":0,"paddingOuter":0.12},"axis":{"labelExpr":"['0','I/II','III','0','I/II','III'][datum.value-1]","titleX":5}},"xOffset":{"field":"k","type":"nominal","scale":{"paddingOuter":4.5,"paddingInner":0}},"y":{"field":"v","type":"quantitative","title":"pg/ml","scale":{"domain":[0,100],"nice":false,"zero":false},"axis":{"values":[0,20,40,60,80,100],"tickCount":20,"format":"d","labelOverlap":false}},"color":{"field":"src","type":"nominal","scale":{"domain":["Serum","Exosomes"],"range":["#000000","#ff0000"]},"legend":{"title":null,"orient":"none","legendX":7,"legendY":4,"encode":{"labels":{"update":{"fill":{"signal":"datum.label==='Exosomes'?'#ff0000':'#000000'"}}}}}}}},
{"data":{"name":"sum"},"transform":[{"filter":"datum.p==='Eotaxin-3'"}],"mark":{"type":"rule","strokeWidth":1.3},"encoding":{"x":{"field":"g","type":"ordinal","title":"Stage"},"y":{"field":"lo","type":"quantitative","title":"pg/ml"},"y2":{"field":"hi"},"color":{"condition":{"test":"datum.g>3","value":"#ff0000"},"value":"#000000"}}},
{"data":{"name":"sum"},"transform":[{"filter":"datum.p==='Eotaxin-3'"}],"mark":{"type":"tick","orient":"horizontal","size":14,"thickness":1.4},"encoding":{"x":{"field":"g","type":"ordinal","title":"Stage"},"y":{"field":"m","type":"quantitative","title":"pg/ml"},"color":{"condition":{"test":"datum.g>3","value":"#ff0000"},"value":"#000000"}}},
{"data":{"name":"sum"},"transform":[{"filter":"datum.p==='Eotaxin-3'"},{"fold":["lo","hi"],"as":["c","cv"]}],"mark":{"type":"tick","orient":"horizontal","size":8,"thickness":1.3},"encoding":{"x":{"field":"g","type":"ordinal","title":"Stage"},"y":{"field":"cv","type":"quantitative","title":"pg/ml"},"color":{"condition":{"test":"datum.g>3","value":"#ff0000"},"value":"#000000"}}},
{"data":{"name":"br"},"transform":[{"filter":"datum.p==='Eotaxin-3'"}],"mark":{"type":"rule","color":"#000000","strokeWidth":1.2},"encoding":{"x":{"field":"a","type":"ordinal","title":"Stage","bandPosition":0.5},"x2":{"field":"b","bandPosition":0.5},"y":{"field":"y","type":"quantitative","title":"pg/ml"}}},
{"data":{"name":"br"},"transform":[{"filter":"datum.p==='Eotaxin-3'"},{"fold":["a","b"],"as":["e","xe"]}],"mark":{"type":"tick","orient":"vertical","size":5,"thickness":1.2,"yOffset":2.5,"color":"#000000"},"encoding":{"x":{"field":"xe","type":"ordinal","title":"Stage"},"y":{"field":"y","type":"quantitative","title":"pg/ml"}}},
{"data":{"name":"br"},"transform":[{"filter":"datum.p==='Eotaxin-3' && datum.b-datum.a===2"}],"mark":{"type":"text","fontStyle":"italic","fontWeight":"bold","fontSize":8.5,"baseline":"bottom","dy":-3,"color":"#000000"},"encoding":{"x":{"field":"a","type":"ordinal","title":"Stage","bandPosition":1.5},"y":{"field":"y","type":"quantitative","title":"pg/ml"},"text":{"field":"t"}}},
{"data":{"name":"br"},"transform":[{"filter":"datum.p==='Eotaxin-3' && datum.b-datum.a===1"}],"mark":{"type":"text","fontStyle":"italic","fontWeight":"bold","fontSize":8.5,"baseline":"bottom","dy":-3,"color":"#000000"},"encoding":{"x":{"field":"a","type":"ordinal","title":"Stage","bandPosition":1},"y":{"field":"y","type":"quantitative","title":"pg/ml"},"text":{"field":"t"}}}
]},
{"title":"BLC","width":120,"height":114,"layer":[
{"data":{"name":"pts"},"transform":[{"filter":"datum.p==='BLC'"},{"calculate":"datum.g>3?'Exosomes':'Serum'","as":"src"},{"window":[{"op":"row_number","as":"k"}],"groupby":["g"]}],"mark":{"type":"circle","size":10,"opacity":1},"encoding":{"x":{"field":"g","type":"ordinal","title":"Stage","scale":{"type":"band","domain":[1,2,3,4,5,6],"paddingInner":0,"paddingOuter":0.12},"axis":{"labelExpr":"['0','I/II','III','0','I/II','III'][datum.value-1]","titleX":6}},"xOffset":{"field":"k","type":"nominal","scale":{"paddingOuter":4.5,"paddingInner":0}},"y":{"field":"v","type":"quantitative","title":"pg/ml","scale":{"domain":[0,500],"nice":false,"zero":false},"axis":{"values":[0,100,200,300,400,500],"tickCount":20,"format":"d","labelOverlap":false}},"color":{"field":"src","type":"nominal","scale":{"domain":["Serum","Exosomes"],"range":["#000000","#ff0000"]},"legend":{"title":null,"orient":"none","legendX":58,"legendY":5,"encode":{"labels":{"update":{"fill":{"signal":"datum.label==='Exosomes'?'#ff0000':'#000000'"}}}}}}}},
{"data":{"name":"sum"},"transform":[{"filter":"datum.p==='BLC'"}],"mark":{"type":"rule","strokeWidth":1.3},"encoding":{"x":{"field":"g","type":"ordinal","title":"Stage"},"y":{"field":"lo","type":"quantitative","title":"pg/ml"},"y2":{"field":"hi"},"color":{"condition":{"test":"datum.g>3","value":"#ff0000"},"value":"#000000"}}},
{"data":{"name":"sum"},"transform":[{"filter":"datum.p==='BLC'"}],"mark":{"type":"tick","orient":"horizontal","size":14,"thickness":1.4},"encoding":{"x":{"field":"g","type":"ordinal","title":"Stage"},"y":{"field":"m","type":"quantitative","title":"pg/ml"},"color":{"condition":{"test":"datum.g>3","value":"#ff0000"},"value":"#000000"}}},
{"data":{"name":"sum"},"transform":[{"filter":"datum.p==='BLC'"},{"fold":["lo","hi"],"as":["c","cv"]}],"mark":{"type":"tick","orient":"horizontal","size":8,"thickness":1.3},"encoding":{"x":{"field":"g","type":"ordinal","title":"Stage"},"y":{"field":"cv","type":"quantitative","title":"pg/ml"},"color":{"condition":{"test":"datum.g>3","value":"#ff0000"},"value":"#000000"}}},
{"data":{"name":"br"},"transform":[{"filter":"datum.p==='BLC'"}],"mark":{"type":"rule","color":"#000000","strokeWidth":1.2},"encoding":{"x":{"field":"a","type":"ordinal","title":"Stage","bandPosition":0.5},"x2":{"field":"b","bandPosition":0.5},"y":{"field":"y","type":"quantitative","title":"pg/ml"}}},
{"data":{"name":"br"},"transform":[{"filter":"datum.p==='BLC'"},{"fold":["a","b"],"as":["e","xe"]}],"mark":{"type":"tick","orient":"vertical","size":5,"thickness":1.2,"yOffset":2.5,"color":"#000000"},"encoding":{"x":{"field":"xe","type":"ordinal","title":"Stage"},"y":{"field":"y","type":"quantitative","title":"pg/ml"}}},
{"data":{"name":"br"},"transform":[{"filter":"datum.p==='BLC' && datum.b-datum.a===2"}],"mark":{"type":"text","fontStyle":"italic","fontWeight":"bold","fontSize":8.5,"baseline":"bottom","dy":-3,"color":"#000000"},"encoding":{"x":{"field":"a","type":"ordinal","title":"Stage","bandPosition":1.5},"y":{"field":"y","type":"quantitative","title":"pg/ml"},"text":{"field":"t"}}},
{"data":{"name":"br"},"transform":[{"filter":"datum.p==='BLC' && datum.b-datum.a===1"}],"mark":{"type":"text","fontStyle":"italic","fontWeight":"bold","fontSize":8.5,"baseline":"bottom","dy":-3,"color":"#000000"},"encoding":{"x":{"field":"a","type":"ordinal","title":"Stage","bandPosition":1},"y":{"field":"y","type":"quantitative","title":"pg/ml"},"text":{"field":"t"}}}
]},
{"title":"IL-2R","width":115,"height":114,"layer":[
{"data":{"name":"pts"},"transform":[{"filter":"datum.p==='IL-2R'"},{"calculate":"datum.g>3?'Exosomes':'Serum'","as":"src"},{"window":[{"op":"row_number","as":"k"}],"groupby":["g"]}],"mark":{"type":"circle","size":10,"opacity":1},"encoding":{"x":{"field":"g","type":"ordinal","title":"Stage","scale":{"type":"band","domain":[1,2,3,4,5,6],"paddingInner":0,"paddingOuter":0},"axis":{"labelExpr":"['0','I/II','III','0','I/II','III'][datum.value-1]","titleX":1}},"xOffset":{"field":"k","type":"nominal","scale":{"paddingOuter":4.5,"paddingInner":0}},"y":{"field":"v","type":"quantitative","title":"pg/ml","scale":{"domain":[0,4000],"nice":false,"zero":false},"axis":{"values":[0,1000,2000,3000,4000],"tickCount":20,"format":"d","labelOverlap":false}},"color":{"field":"src","type":"nominal","scale":{"domain":["Serum","Exosomes"],"range":["#000000","#ff0000"]},"legend":{"title":null,"orient":"none","legendX":3,"legendY":1.5,"encode":{"labels":{"update":{"fill":{"signal":"datum.label==='Exosomes'?'#ff0000':'#000000'"}}}}}}}},
{"data":{"name":"sum"},"transform":[{"filter":"datum.p==='IL-2R'"}],"mark":{"type":"rule","strokeWidth":1.3},"encoding":{"x":{"field":"g","type":"ordinal","title":"Stage"},"y":{"field":"lo","type":"quantitative","title":"pg/ml"},"y2":{"field":"hi"},"color":{"condition":{"test":"datum.g>3","value":"#ff0000"},"value":"#000000"}}},
{"data":{"name":"sum"},"transform":[{"filter":"datum.p==='IL-2R'"}],"mark":{"type":"tick","orient":"horizontal","size":14,"thickness":1.4},"encoding":{"x":{"field":"g","type":"ordinal","title":"Stage"},"y":{"field":"m","type":"quantitative","title":"pg/ml"},"color":{"condition":{"test":"datum.g>3","value":"#ff0000"},"value":"#000000"}}},
{"data":{"name":"sum"},"transform":[{"filter":"datum.p==='IL-2R'"},{"fold":["lo","hi"],"as":["c","cv"]}],"mark":{"type":"tick","orient":"horizontal","size":8,"thickness":1.3},"encoding":{"x":{"field":"g","type":"ordinal","title":"Stage"},"y":{"field":"cv","type":"quantitative","title":"pg/ml"},"color":{"condition":{"test":"datum.g>3","value":"#ff0000"},"value":"#000000"}}},
{"data":{"name":"br"},"transform":[{"filter":"datum.p==='IL-2R'"}],"mark":{"type":"rule","color":"#000000","strokeWidth":1.2},"encoding":{"x":{"field":"a","type":"ordinal","title":"Stage","bandPosition":0.5},"x2":{"field":"b","bandPosition":0.5},"y":{"field":"y","type":"quantitative","title":"pg/ml"}}},
{"data":{"name":"br"},"transform":[{"filter":"datum.p==='IL-2R'"},{"fold":["a","b"],"as":["e","xe"]}],"mark":{"type":"tick","orient":"vertical","size":5,"thickness":1.2,"yOffset":2.5,"color":"#000000"},"encoding":{"x":{"field":"xe","type":"ordinal","title":"Stage"},"y":{"field":"y","type":"quantitative","title":"pg/ml"}}},
{"data":{"name":"br"},"transform":[{"filter":"datum.p==='IL-2R' && datum.b-datum.a===2"}],"mark":{"type":"text","fontStyle":"italic","fontWeight":"bold","fontSize":8.5,"baseline":"bottom","dy":-3,"color":"#000000"},"encoding":{"x":{"field":"a","type":"ordinal","title":"Stage","bandPosition":1.5},"y":{"field":"y","type":"quantitative","title":"pg/ml"},"text":{"field":"t"}}},
{"data":{"name":"br"},"transform":[{"filter":"datum.p==='IL-2R' && datum.b-datum.a===1"}],"mark":{"type":"text","fontStyle":"italic","fontWeight":"bold","fontSize":8.5,"baseline":"bottom","dy":-3,"color":"#000000"},"encoding":{"x":{"field":"a","type":"ordinal","title":"Stage","bandPosition":1},"y":{"field":"y","type":"quantitative","title":"pg/ml"},"text":{"field":"t"}}}
]},
{"title":"MDC","width":124,"height":114,"layer":[
{"data":{"name":"pts"},"transform":[{"filter":"datum.p==='MDC'"},{"calculate":"datum.g>3?'Exosomes':'Serum'","as":"src"},{"window":[{"op":"row_number","as":"k"}],"groupby":["g"]}],"mark":{"type":"circle","size":10,"opacity":1},"encoding":{"x":{"field":"g","type":"ordinal","title":"Stage","scale":{"type":"band","domain":[1,2,3,4,5,6],"paddingInner":0,"paddingOuter":0.12},"axis":{"labelExpr":"['0','I/II','III','0','I/II','III'][datum.value-1]","titleX":7}},"xOffset":{"field":"k","type":"nominal","scale":{"paddingOuter":4.5,"paddingInner":0}},"y":{"field":"v","type":"quantitative","title":"pg/ml","scale":{"domain":[0,200],"nice":false,"zero":false},"axis":{"values":[0,50,100,150,200],"tickCount":20,"format":"d","labelOverlap":false}},"color":{"field":"src","type":"nominal","scale":{"domain":["Serum","Exosomes"],"range":["#000000","#ff0000"]},"legend":{"title":null,"orient":"none","legendX":62,"legendY":1,"encode":{"labels":{"update":{"fill":{"signal":"datum.label==='Exosomes'?'#ff0000':'#000000'"}}}}}}}},
{"data":{"name":"sum"},"transform":[{"filter":"datum.p==='MDC'"}],"mark":{"type":"rule","strokeWidth":1.3},"encoding":{"x":{"field":"g","type":"ordinal","title":"Stage"},"y":{"field":"lo","type":"quantitative","title":"pg/ml"},"y2":{"field":"hi"},"color":{"condition":{"test":"datum.g>3","value":"#ff0000"},"value":"#000000"}}},
{"data":{"name":"sum"},"transform":[{"filter":"datum.p==='MDC'"}],"mark":{"type":"tick","orient":"horizontal","size":14,"thickness":1.4},"encoding":{"x":{"field":"g","type":"ordinal","title":"Stage"},"y":{"field":"m","type":"quantitative","title":"pg/ml"},"color":{"condition":{"test":"datum.g>3","value":"#ff0000"},"value":"#000000"}}},
{"data":{"name":"sum"},"transform":[{"filter":"datum.p==='MDC'"},{"fold":["lo","hi"],"as":["c","cv"]}],"mark":{"type":"tick","orient":"horizontal","size":8,"thickness":1.3},"encoding":{"x":{"field":"g","type":"ordinal","title":"Stage"},"y":{"field":"cv","type":"quantitative","title":"pg/ml"},"color":{"condition":{"test":"datum.g>3","value":"#ff0000"},"value":"#000000"}}},
{"data":{"name":"br"},"transform":[{"filter":"datum.p==='MDC'"}],"mark":{"type":"rule","color":"#000000","strokeWidth":1.2},"encoding":{"x":{"field":"a","type":"ordinal","title":"Stage","bandPosition":0.5},"x2":{"field":"b","bandPosition":0.5},"y":{"field":"y","type":"quantitative","title":"pg/ml"}}},
{"data":{"name":"br"},"transform":[{"filter":"datum.p==='MDC'"},{"fold":["a","b"],"as":["e","xe"]}],"mark":{"type":"tick","orient":"vertical","size":5,"thickness":1.2,"yOffset":2.5,"color":"#000000"},"encoding":{"x":{"field":"xe","type":"ordinal","title":"Stage"},"y":{"field":"y","type":"quantitative","title":"pg/ml"}}},
{"data":{"name":"br"},"transform":[{"filter":"datum.p==='MDC' && datum.b-datum.a===2"}],"mark":{"type":"text","fontStyle":"italic","fontWeight":"bold","fontSize":8.5,"baseline":"bottom","dy":-3,"color":"#000000"},"encoding":{"x":{"field":"a","type":"ordinal","title":"Stage","bandPosition":1.5},"y":{"field":"y","type":"quantitative","title":"pg/ml"},"text":{"field":"t"}}},
{"data":{"name":"br"},"transform":[{"filter":"datum.p==='MDC' && datum.b-datum.a===1"}],"mark":{"type":"text","fontStyle":"italic","fontWeight":"bold","fontSize":8.5,"baseline":"bottom","dy":-3,"color":"#000000"},"encoding":{"x":{"field":"a","type":"ordinal","title":"Stage","bandPosition":1},"y":{"field":"y","type":"quantitative","title":"pg/ml"},"text":{"field":"t"}}}
]},
{"title":"FGF-2","width":120,"height":114,"layer":[
{"data":{"name":"pts"},"transform":[{"filter":"datum.p==='FGF-2'"},{"calculate":"datum.g>3?'Exosomes':'Serum'","as":"src"},{"window":[{"op":"row_number","as":"k"}],"groupby":["g"]}],"mark":{"type":"circle","size":10,"opacity":1},"encoding":{"x":{"field":"g","type":"ordinal","title":"Stage","scale":{"type":"band","domain":[1,2,3,4,5,6],"paddingInner":0,"paddingOuter":0.12},"axis":{"labelExpr":"['0','I/II','III','0','I/II','III'][datum.value-1]","titleX":5}},"xOffset":{"field":"k","type":"nominal","scale":{"paddingOuter":4.5,"paddingInner":0}},"y":{"field":"v","type":"quantitative","title":"pg/ml","scale":{"domain":[0,400],"nice":false,"zero":false},"axis":{"values":[0,100,200,300,400],"tickCount":20,"format":"d","labelOverlap":false}},"color":{"field":"src","type":"nominal","scale":{"domain":["Serum","Exosomes"],"range":["#000000","#ff0000"]},"legend":{"title":null,"orient":"none","legendX":10,"legendY":1.7,"encode":{"labels":{"update":{"fill":{"signal":"datum.label==='Exosomes'?'#ff0000':'#000000'"}}}}}}}},
{"data":{"name":"sum"},"transform":[{"filter":"datum.p==='FGF-2'"}],"mark":{"type":"rule","strokeWidth":1.3},"encoding":{"x":{"field":"g","type":"ordinal","title":"Stage"},"y":{"field":"lo","type":"quantitative","title":"pg/ml"},"y2":{"field":"hi"},"color":{"condition":{"test":"datum.g>3","value":"#ff0000"},"value":"#000000"}}},
{"data":{"name":"sum"},"transform":[{"filter":"datum.p==='FGF-2'"}],"mark":{"type":"tick","orient":"horizontal","size":14,"thickness":1.4},"encoding":{"x":{"field":"g","type":"ordinal","title":"Stage"},"y":{"field":"m","type":"quantitative","title":"pg/ml"},"color":{"condition":{"test":"datum.g>3","value":"#ff0000"},"value":"#000000"}}},
{"data":{"name":"sum"},"transform":[{"filter":"datum.p==='FGF-2'"},{"fold":["lo","hi"],"as":["c","cv"]}],"mark":{"type":"tick","orient":"horizontal","size":8,"thickness":1.3},"encoding":{"x":{"field":"g","type":"ordinal","title":"Stage"},"y":{"field":"cv","type":"quantitative","title":"pg/ml"},"color":{"condition":{"test":"datum.g>3","value":"#ff0000"},"value":"#000000"}}},
{"data":{"name":"br"},"transform":[{"filter":"datum.p==='FGF-2'"}],"mark":{"type":"rule","color":"#000000","strokeWidth":1.2},"encoding":{"x":{"field":"a","type":"ordinal","title":"Stage","bandPosition":0.5},"x2":{"field":"b","bandPosition":0.5},"y":{"field":"y","type":"quantitative","title":"pg/ml"}}},
{"data":{"name":"br"},"transform":[{"filter":"datum.p==='FGF-2'"},{"fold":["a","b"],"as":["e","xe"]}],"mark":{"type":"tick","orient":"vertical","size":5,"thickness":1.2,"yOffset":2.5,"color":"#000000"},"encoding":{"x":{"field":"xe","type":"ordinal","title":"Stage"},"y":{"field":"y","type":"quantitative","title":"pg/ml"}}},
{"data":{"name":"br"},"transform":[{"filter":"datum.p==='FGF-2' && datum.b-datum.a===2"}],"mark":{"type":"text","fontStyle":"italic","fontWeight":"bold","fontSize":8.5,"baseline":"bottom","dy":-3,"color":"#000000"},"encoding":{"x":{"field":"a","type":"ordinal","title":"Stage","bandPosition":1.5},"y":{"field":"y","type":"quantitative","title":"pg/ml"},"text":{"field":"t"}}},
{"data":{"name":"br"},"transform":[{"filter":"datum.p==='FGF-2' && datum.b-datum.a===1"}],"mark":{"type":"text","fontStyle":"italic","fontWeight":"bold","fontSize":8.5,"baseline":"bottom","dy":-3,"color":"#000000"},"encoding":{"x":{"field":"a","type":"ordinal","title":"Stage","bandPosition":1},"y":{"field":"y","type":"quantitative","title":"pg/ml"},"text":{"field":"t"}}}
]},
{"title":"IL-22","width":120,"height":114,"layer":[
{"data":{"name":"pts"},"transform":[{"filter":"datum.p==='IL-22'"},{"calculate":"datum.g>3?'Exosomes':'Serum'","as":"src"},{"window":[{"op":"row_number","as":"k"}],"groupby":["g"]}],"mark":{"type":"circle","size":10,"opacity":1},"encoding":{"x":{"field":"g","type":"ordinal","title":"Stage","scale":{"type":"band","domain":[1,2,3,4,5,6],"paddingInner":0,"paddingOuter":0.12},"axis":{"labelExpr":"['0','I/II','III','0','I/II','III'][datum.value-1]","titleX":6}},"xOffset":{"field":"k","type":"nominal","scale":{"paddingOuter":4.5,"paddingInner":0}},"y":{"field":"v","type":"quantitative","title":"pg/ml","scale":{"domain":[0,200],"nice":false,"zero":false},"axis":{"values":[0,50,100,150,200],"tickCount":20,"format":"d","labelOverlap":false}},"color":{"field":"src","type":"nominal","scale":{"domain":["Serum","Exosomes"],"range":["#000000","#ff0000"]},"legend":{"title":null,"orient":"none","legendX":10,"legendY":1,"encode":{"labels":{"update":{"fill":{"signal":"datum.label==='Exosomes'?'#ff0000':'#000000'"}}}}}}}},
{"data":{"name":"sum"},"transform":[{"filter":"datum.p==='IL-22'"}],"mark":{"type":"rule","strokeWidth":1.3},"encoding":{"x":{"field":"g","type":"ordinal","title":"Stage"},"y":{"field":"lo","type":"quantitative","title":"pg/ml"},"y2":{"field":"hi"},"color":{"condition":{"test":"datum.g>3","value":"#ff0000"},"value":"#000000"}}},
{"data":{"name":"sum"},"transform":[{"filter":"datum.p==='IL-22'"}],"mark":{"type":"tick","orient":"horizontal","size":14,"thickness":1.4},"encoding":{"x":{"field":"g","type":"ordinal","title":"Stage"},"y":{"field":"m","type":"quantitative","title":"pg/ml"},"color":{"condition":{"test":"datum.g>3","value":"#ff0000"},"value":"#000000"}}},
{"data":{"name":"sum"},"transform":[{"filter":"datum.p==='IL-22'"},{"fold":["lo","hi"],"as":["c","cv"]}],"mark":{"type":"tick","orient":"horizontal","size":8,"thickness":1.3},"encoding":{"x":{"field":"g","type":"ordinal","title":"Stage"},"y":{"field":"cv","type":"quantitative","title":"pg/ml"},"color":{"condition":{"test":"datum.g>3","value":"#ff0000"},"value":"#000000"}}},
{"data":{"name":"br"},"transform":[{"filter":"datum.p==='IL-22'"}],"mark":{"type":"rule","color":"#000000","strokeWidth":1.2},"encoding":{"x":{"field":"a","type":"ordinal","title":"Stage","bandPosition":0.5},"x2":{"field":"b","bandPosition":0.5},"y":{"field":"y","type":"quantitative","title":"pg/ml"}}},
{"data":{"name":"br"},"transform":[{"filter":"datum.p==='IL-22'"},{"fold":["a","b"],"as":["e","xe"]}],"mark":{"type":"tick","orient":"vertical","size":5,"thickness":1.2,"yOffset":2.5,"color":"#000000"},"encoding":{"x":{"field":"xe","type":"ordinal","title":"Stage"},"y":{"field":"y","type":"quantitative","title":"pg/ml"}}},
{"data":{"name":"br"},"transform":[{"filter":"datum.p==='IL-22' && datum.b-datum.a===2"}],"mark":{"type":"text","fontStyle":"italic","fontWeight":"bold","fontSize":8.5,"baseline":"bottom","dy":-3,"color":"#000000"},"encoding":{"x":{"field":"a","type":"ordinal","title":"Stage","bandPosition":1.5},"y":{"field":"y","type":"quantitative","title":"pg/ml"},"text":{"field":"t"}}},
{"data":{"name":"br"},"transform":[{"filter":"datum.p==='IL-22' && datum.b-datum.a===1"}],"mark":{"type":"text","fontStyle":"italic","fontWeight":"bold","fontSize":8.5,"baseline":"bottom","dy":-3,"color":"#000000"},"encoding":{"x":{"field":"a","type":"ordinal","title":"Stage","bandPosition":1},"y":{"field":"y","type":"quantitative","title":"pg/ml"},"text":{"field":"t"}}}
]},
{"title":"IL-31","width":115,"height":114,"layer":[
{"data":{"name":"pts"},"transform":[{"filter":"datum.p==='IL-31'"},{"calculate":"datum.g>3?'Exosomes':'Serum'","as":"src"},{"window":[{"op":"row_number","as":"k"}],"groupby":["g"]}],"mark":{"type":"circle","size":10,"opacity":1},"encoding":{"x":{"field":"g","type":"ordinal","title":"Stage","scale":{"type":"band","domain":[1,2,3,4,5,6],"paddingInner":0,"paddingOuter":0},"axis":{"labelExpr":"['0','I/II','III','0','I/II','III'][datum.value-1]","titleX":1}},"xOffset":{"field":"k","type":"nominal","scale":{"paddingOuter":4.5,"paddingInner":0}},"y":{"field":"v","type":"quantitative","title":"pg/ml","scale":{"domain":[0,400],"nice":false,"zero":false},"axis":{"values":[0,100,200,300,400],"tickCount":20,"format":"d","labelOverlap":false}},"color":{"field":"src","type":"nominal","scale":{"domain":["Serum","Exosomes"],"range":["#000000","#ff0000"]},"legend":{"title":null,"orient":"none","legendX":6,"legendY":0.7,"encode":{"labels":{"update":{"fill":{"signal":"datum.label==='Exosomes'?'#ff0000':'#000000'"}}}}}}}},
{"data":{"name":"sum"},"transform":[{"filter":"datum.p==='IL-31'"}],"mark":{"type":"rule","strokeWidth":1.3},"encoding":{"x":{"field":"g","type":"ordinal","title":"Stage"},"y":{"field":"lo","type":"quantitative","title":"pg/ml"},"y2":{"field":"hi"},"color":{"condition":{"test":"datum.g>3","value":"#ff0000"},"value":"#000000"}}},
{"data":{"name":"sum"},"transform":[{"filter":"datum.p==='IL-31'"}],"mark":{"type":"tick","orient":"horizontal","size":14,"thickness":1.4},"encoding":{"x":{"field":"g","type":"ordinal","title":"Stage"},"y":{"field":"m","type":"quantitative","title":"pg/ml"},"color":{"condition":{"test":"datum.g>3","value":"#ff0000"},"value":"#000000"}}},
{"data":{"name":"sum"},"transform":[{"filter":"datum.p==='IL-31'"},{"fold":["lo","hi"],"as":["c","cv"]}],"mark":{"type":"tick","orient":"horizontal","size":8,"thickness":1.3},"encoding":{"x":{"field":"g","type":"ordinal","title":"Stage"},"y":{"field":"cv","type":"quantitative","title":"pg/ml"},"color":{"condition":{"test":"datum.g>3","value":"#ff0000"},"value":"#000000"}}},
{"data":{"name":"br"},"transform":[{"filter":"datum.p==='IL-31'"}],"mark":{"type":"rule","color":"#000000","strokeWidth":1.2},"encoding":{"x":{"field":"a","type":"ordinal","title":"Stage","bandPosition":0.5},"x2":{"field":"b","bandPosition":0.5},"y":{"field":"y","type":"quantitative","title":"pg/ml"}}},
{"data":{"name":"br"},"transform":[{"filter":"datum.p==='IL-31'"},{"fold":["a","b"],"as":["e","xe"]}],"mark":{"type":"tick","orient":"vertical","size":5,"thickness":1.2,"yOffset":2.5,"color":"#000000"},"encoding":{"x":{"field":"xe","type":"ordinal","title":"Stage"},"y":{"field":"y","type":"quantitative","title":"pg/ml"}}},
{"data":{"name":"br"},"transform":[{"filter":"datum.p==='IL-31' && datum.b-datum.a===2"}],"mark":{"type":"text","fontStyle":"italic","fontWeight":"bold","fontSize":8.5,"baseline":"bottom","dy":-3,"color":"#000000"},"encoding":{"x":{"field":"a","type":"ordinal","title":"Stage","bandPosition":1.5},"y":{"field":"y","type":"quantitative","title":"pg/ml"},"text":{"field":"t"}}},
{"data":{"name":"br"},"transform":[{"filter":"datum.p==='IL-31' && datum.b-datum.a===1"}],"mark":{"type":"text","fontStyle":"italic","fontWeight":"bold","fontSize":8.5,"baseline":"bottom","dy":-3,"color":"#000000"},"encoding":{"x":{"field":"a","type":"ordinal","title":"Stage","bandPosition":1},"y":{"field":"y","type":"quantitative","title":"pg/ml"},"text":{"field":"t"}}}
]},
{"title":"APRIL","width":124,"height":114,"layer":[
{"data":{"name":"pts"},"transform":[{"filter":"datum.p==='APRIL'"},{"calculate":"datum.g>3?'Exosomes':'Serum'","as":"src"},{"window":[{"op":"row_number","as":"k"}],"groupby":["g"]}],"mark":{"type":"circle","size":10,"opacity":1},"encoding":{"x":{"field":"g","type":"ordinal","title":"Stage","scale":{"type":"band","domain":[1,2,3,4,5,6],"paddingInner":0,"paddingOuter":0.12},"axis":{"labelExpr":"['0','I/II','III','0','I/II','III'][datum.value-1]","titleX":7}},"xOffset":{"field":"k","type":"nominal","scale":{"paddingOuter":4.5,"paddingInner":0}},"y":{"field":"v","type":"quantitative","title":"pg/ml","scale":{"domain":[0,3000,5000,7000],"range":[114,29,20.3,0],"nice":false,"zero":false},"axis":{"values":[0,1000,2000,3000,5000,6000,7000],"tickCount":20,"format":"d","labelOverlap":false}},"color":{"field":"src","type":"nominal","scale":{"domain":["Serum","Exosomes"],"range":["#000000","#ff0000"]},"legend":{"title":null,"orient":"none","legendX":55,"legendY":4.7,"encode":{"labels":{"update":{"fill":{"signal":"datum.label==='Exosomes'?'#ff0000':'#000000'"}}}}}}}},
{"data":{"name":"gap"},"transform":[{"filter":"datum.p==='APRIL'"}],"mark":{"type":"rule","color":"#ffffff","strokeWidth":4},"encoding":{"x":{"datum":1,"type":"ordinal","bandPosition":-0.12},"y":{"field":"lo","type":"quantitative","title":"pg/ml"},"y2":{"field":"hi"}}},
{"data":{"name":"sum"},"transform":[{"filter":"datum.p==='APRIL'"}],"mark":{"type":"rule","strokeWidth":1.3},"encoding":{"x":{"field":"g","type":"ordinal","title":"Stage"},"y":{"field":"lo","type":"quantitative","title":"pg/ml"},"y2":{"field":"hi"},"color":{"condition":{"test":"datum.g>3","value":"#ff0000"},"value":"#000000"}}},
{"data":{"name":"sum"},"transform":[{"filter":"datum.p==='APRIL'"}],"mark":{"type":"tick","orient":"horizontal","size":14,"thickness":1.4},"encoding":{"x":{"field":"g","type":"ordinal","title":"Stage"},"y":{"field":"m","type":"quantitative","title":"pg/ml"},"color":{"condition":{"test":"datum.g>3","value":"#ff0000"},"value":"#000000"}}},
{"data":{"name":"sum"},"transform":[{"filter":"datum.p==='APRIL'"},{"fold":["lo","hi"],"as":["c","cv"]}],"mark":{"type":"tick","orient":"horizontal","size":8,"thickness":1.3},"encoding":{"x":{"field":"g","type":"ordinal","title":"Stage"},"y":{"field":"cv","type":"quantitative","title":"pg/ml"},"color":{"condition":{"test":"datum.g>3","value":"#ff0000"},"value":"#000000"}}},
{"data":{"name":"br"},"transform":[{"filter":"datum.p==='APRIL'"}],"mark":{"type":"rule","color":"#000000","strokeWidth":1.2},"encoding":{"x":{"field":"a","type":"ordinal","title":"Stage","bandPosition":0.5},"x2":{"field":"b","bandPosition":0.5},"y":{"field":"y","type":"quantitative","title":"pg/ml"}}},
{"data":{"name":"br"},"transform":[{"filter":"datum.p==='APRIL'"},{"fold":["a","b"],"as":["e","xe"]}],"mark":{"type":"tick","orient":"vertical","size":5,"thickness":1.2,"yOffset":2.5,"color":"#000000"},"encoding":{"x":{"field":"xe","type":"ordinal","title":"Stage"},"y":{"field":"y","type":"quantitative","title":"pg/ml"}}},
{"data":{"name":"br"},"transform":[{"filter":"datum.p==='APRIL' && datum.b-datum.a===2"}],"mark":{"type":"text","fontStyle":"italic","fontWeight":"bold","fontSize":8.5,"baseline":"bottom","dy":-3,"color":"#000000"},"encoding":{"x":{"field":"a","type":"ordinal","title":"Stage","bandPosition":1.5},"y":{"field":"y","type":"quantitative","title":"pg/ml"},"text":{"field":"t"}}},
{"data":{"name":"br"},"transform":[{"filter":"datum.p==='APRIL' && datum.b-datum.a===1"}],"mark":{"type":"text","fontStyle":"italic","fontWeight":"bold","fontSize":8.5,"baseline":"bottom","dy":-3,"color":"#000000"},"encoding":{"x":{"field":"a","type":"ordinal","title":"Stage","bandPosition":1},"y":{"field":"y","type":"quantitative","title":"pg/ml"},"text":{"field":"t"}}}
]},
{"title":"G-CSF","width":120,"height":114,"layer":[
{"data":{"name":"pts"},"transform":[{"filter":"datum.p==='G-CSF'"},{"calculate":"datum.g>3?'Exosomes':'Serum'","as":"src"},{"window":[{"op":"row_number","as":"k"}],"groupby":["g"]}],"mark":{"type":"circle","size":10,"opacity":1},"encoding":{"x":{"field":"g","type":"ordinal","title":"Stage","scale":{"type":"band","domain":[1,2,3,4,5,6],"paddingInner":0,"paddingOuter":0.12},"axis":{"labelExpr":"['0','I/II','III','0','I/II','III'][datum.value-1]","titleX":5}},"xOffset":{"field":"k","type":"nominal","scale":{"paddingOuter":4.5,"paddingInner":0}},"y":{"field":"v","type":"quantitative","title":"pg/ml","scale":{"domain":[0,1500],"nice":false,"zero":false},"axis":{"values":[0,500,1000,1500],"tickCount":20,"format":"d","labelOverlap":false}},"color":{"field":"src","type":"nominal","scale":{"domain":["Serum","Exosomes"],"range":["#000000","#ff0000"]},"legend":{"title":null,"orient":"none","legendX":10,"legendY":0.7,"encode":{"labels":{"update":{"fill":{"signal":"datum.label==='Exosomes'?'#ff0000':'#000000'"}}}}}}}},
{"data":{"name":"sum"},"transform":[{"filter":"datum.p==='G-CSF'"}],"mark":{"type":"rule","strokeWidth":1.3},"encoding":{"x":{"field":"g","type":"ordinal","title":"Stage"},"y":{"field":"lo","type":"quantitative","title":"pg/ml"},"y2":{"field":"hi"},"color":{"condition":{"test":"datum.g>3","value":"#ff0000"},"value":"#000000"}}},
{"data":{"name":"sum"},"transform":[{"filter":"datum.p==='G-CSF'"}],"mark":{"type":"tick","orient":"horizontal","size":14,"thickness":1.4},"encoding":{"x":{"field":"g","type":"ordinal","title":"Stage"},"y":{"field":"m","type":"quantitative","title":"pg/ml"},"color":{"condition":{"test":"datum.g>3","value":"#ff0000"},"value":"#000000"}}},
{"data":{"name":"sum"},"transform":[{"filter":"datum.p==='G-CSF'"},{"fold":["lo","hi"],"as":["c","cv"]}],"mark":{"type":"tick","orient":"horizontal","size":8,"thickness":1.3},"encoding":{"x":{"field":"g","type":"ordinal","title":"Stage"},"y":{"field":"cv","type":"quantitative","title":"pg/ml"},"color":{"condition":{"test":"datum.g>3","value":"#ff0000"},"value":"#000000"}}},
{"data":{"name":"br"},"transform":[{"filter":"datum.p==='G-CSF'"}],"mark":{"type":"rule","color":"#000000","strokeWidth":1.2},"encoding":{"x":{"field":"a","type":"ordinal","title":"Stage","bandPosition":0.5},"x2":{"field":"b","bandPosition":0.5},"y":{"field":"y","type":"quantitative","title":"pg/ml"}}},
{"data":{"name":"br"},"transform":[{"filter":"datum.p==='G-CSF'"},{"fold":["a","b"],"as":["e","xe"]}],"mark":{"type":"tick","orient":"vertical","size":5,"thickness":1.2,"yOffset":2.5,"color":"#000000"},"encoding":{"x":{"field":"xe","type":"ordinal","title":"Stage"},"y":{"field":"y","type":"quantitative","title":"pg/ml"}}},
{"data":{"name":"br"},"transform":[{"filter":"datum.p==='G-CSF' && datum.b-datum.a===2"}],"mark":{"type":"text","fontStyle":"italic","fontWeight":"bold","fontSize":8.5,"baseline":"bottom","dy":-3,"color":"#000000"},"encoding":{"x":{"field":"a","type":"ordinal","title":"Stage","bandPosition":1.5},"y":{"field":"y","type":"quantitative","title":"pg/ml"},"text":{"field":"t"}}},
{"data":{"name":"br"},"transform":[{"filter":"datum.p==='G-CSF' && datum.b-datum.a===1"}],"mark":{"type":"text","fontStyle":"italic","fontWeight":"bold","fontSize":8.5,"baseline":"bottom","dy":-3,"color":"#000000"},"encoding":{"x":{"field":"a","type":"ordinal","title":"Stage","bandPosition":1},"y":{"field":"y","type":"quantitative","title":"pg/ml"},"text":{"field":"t"}}}
]},
{"title":"MIF","width":120,"height":114,"layer":[
{"data":{"name":"pts"},"transform":[{"filter":"datum.p==='MIF'"},{"calculate":"datum.g>3?'Exosomes':'Serum'","as":"src"},{"window":[{"op":"row_number","as":"k"}],"groupby":["g"]}],"mark":{"type":"circle","size":10,"opacity":1},"encoding":{"x":{"field":"g","type":"ordinal","title":"Stage","scale":{"type":"band","domain":[1,2,3,4,5,6],"paddingInner":0,"paddingOuter":0.12},"axis":{"labelExpr":"['0','I/II','III','0','I/II','III'][datum.value-1]","titleX":6}},"xOffset":{"field":"k","type":"nominal","scale":{"paddingOuter":4.5,"paddingInner":0}},"y":{"field":"v","type":"quantitative","title":"pg/ml","scale":{"domain":[0,100],"nice":false,"zero":false},"axis":{"values":[0,20,40,60,80,100],"tickCount":20,"format":"d","labelOverlap":false}},"color":{"field":"src","type":"nominal","scale":{"domain":["Serum","Exosomes"],"range":["#000000","#ff0000"]},"legend":{"title":null,"orient":"none","legendX":58,"legendY":0.7,"encode":{"labels":{"update":{"fill":{"signal":"datum.label==='Exosomes'?'#ff0000':'#000000'"}}}}}}}},
{"data":{"name":"sum"},"transform":[{"filter":"datum.p==='MIF'"}],"mark":{"type":"rule","strokeWidth":1.3},"encoding":{"x":{"field":"g","type":"ordinal","title":"Stage"},"y":{"field":"lo","type":"quantitative","title":"pg/ml"},"y2":{"field":"hi"},"color":{"condition":{"test":"datum.g>3","value":"#ff0000"},"value":"#000000"}}},
{"data":{"name":"sum"},"transform":[{"filter":"datum.p==='MIF'"}],"mark":{"type":"tick","orient":"horizontal","size":14,"thickness":1.4},"encoding":{"x":{"field":"g","type":"ordinal","title":"Stage"},"y":{"field":"m","type":"quantitative","title":"pg/ml"},"color":{"condition":{"test":"datum.g>3","value":"#ff0000"},"value":"#000000"}}},
{"data":{"name":"sum"},"transform":[{"filter":"datum.p==='MIF'"},{"fold":["lo","hi"],"as":["c","cv"]}],"mark":{"type":"tick","orient":"horizontal","size":8,"thickness":1.3},"encoding":{"x":{"field":"g","type":"ordinal","title":"Stage"},"y":{"field":"cv","type":"quantitative","title":"pg/ml"},"color":{"condition":{"test":"datum.g>3","value":"#ff0000"},"value":"#000000"}}}
]}
]
}
